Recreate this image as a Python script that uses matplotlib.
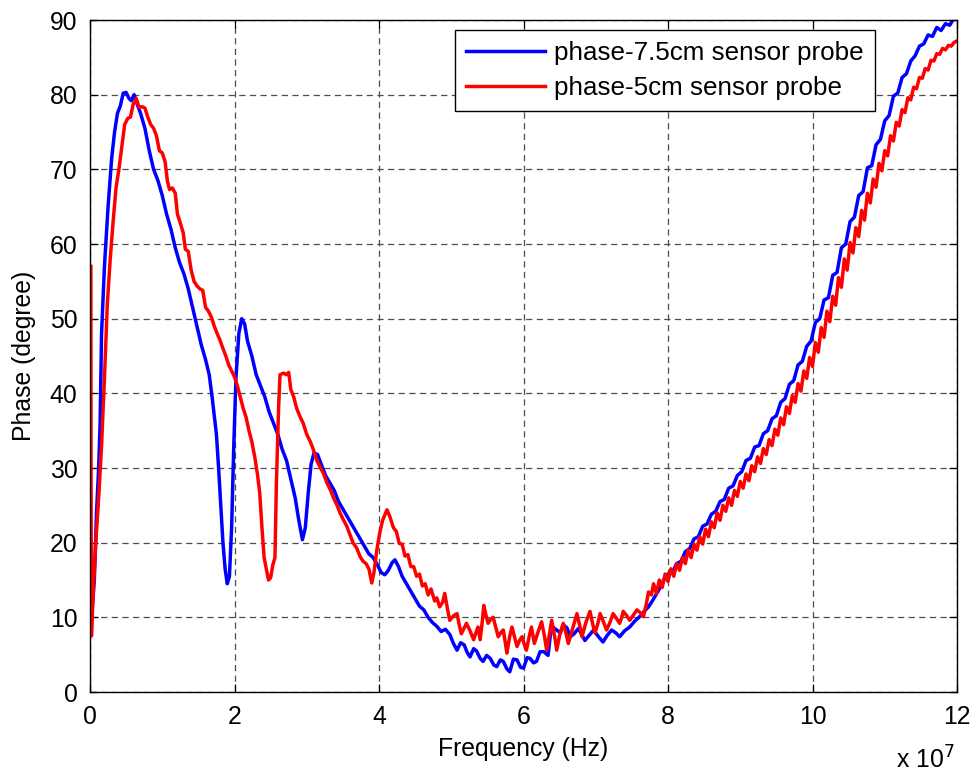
import numpy as np
import matplotlib
matplotlib.use('Agg')
import matplotlib.pyplot as plt

plt.rcParams['font.family'] = ['Liberation Sans', 'DejaVu Sans']

# frequency in units of 1e7 Hz, phase in degrees
freq_75 = [0.03, 0.06, 0.09, 0.12, 0.14, 0.16, 0.20, 0.25, 0.30, 0.34, 0.38, 0.42, 0.46, 0.50, 0.54, 0.57,
           0.61, 0.65, 0.70, 0.76, 0.82, 0.88, 0.94, 1.00, 1.06, 1.12, 1.18, 1.24, 1.30, 1.36, 1.42, 1.48,
           1.54, 1.60, 1.65, 1.69, 1.72, 1.75, 1.78, 1.81, 1.84, 1.87, 1.90, 1.93, 1.96, 1.99, 2.02, 2.06,
           2.10, 2.14, 2.18, 2.24, 2.30, 2.36, 2.42, 2.48, 2.54, 2.60, 2.66, 2.72, 2.78, 2.84, 2.89, 2.94,
           2.98, 3.02, 3.06, 3.10, 3.15, 3.20, 3.26, 3.32, 3.38, 3.44, 3.50, 3.56, 3.62, 3.68, 3.74, 3.80,
           3.86, 3.92, 3.98, 4.03, 4.08, 4.13, 4.18, 4.22, 4.27, 4.32, 4.38, 4.44, 4.50, 4.56,
           4.62, 4.68, 4.74, 4.80, 4.86, 4.92, 4.98, 5.03, 5.08, 5.13, 5.18, 5.22, 5.26, 5.31, 5.35, 5.40,
           5.44, 5.49, 5.54, 5.59, 5.63, 5.68, 5.72, 5.77, 5.81, 5.86, 5.91, 5.96, 6.00, 6.05, 6.09, 6.14,
           6.18, 6.23, 6.28, 6.34, 6.37, 6.40, 6.46, 6.51, 6.55, 6.60, 6.65, 6.70, 6.76, 6.80, 6.85, 6.91,
           6.97, 7.03, 7.10, 7.16, 7.22, 7.28, 7.33, 7.40, 7.47, 7.54, 7.61, 7.67, 7.73, 7.79, 7.85, 7.91,
           7.94, 8.00, 8.06, 8.12, 8.18, 8.24, 8.30, 8.36, 8.42, 8.48,
           8.54, 8.60, 8.66, 8.72, 8.78, 8.84, 8.90, 8.96, 9.02, 9.08, 9.14, 9.20, 9.26, 9.32, 9.38, 9.44,
           9.50, 9.56, 9.62, 9.68, 9.74, 9.80, 9.86, 9.92, 9.98, 10.04, 10.10, 10.16, 10.22, 10.28, 10.34,
           10.40, 10.46, 10.52, 10.58, 10.64, 10.70, 10.76, 10.82, 10.88, 10.94, 11.00, 11.06, 11.12, 11.18,
           11.24, 11.30, 11.36, 11.42, 11.48, 11.54, 11.60, 11.66, 11.72, 11.78, 11.84, 11.90, 11.96, 12.00]
phase_75 = [11, 15, 24, 30, 36, 48, 57, 65, 71.5, 75, 77.5, 78.5, 80.2, 80.3, 79.5, 79.2,
            80.0, 78.8, 77.5, 75.5, 72.5, 70, 68.5, 66.5, 64, 62, 59.5, 57.5, 56, 54, 51.5, 49,
            46.5, 44.5, 42.5, 39.5, 37, 34.5, 30, 25, 20, 16.5, 14.5, 15.5, 22, 33, 42, 48,
            50, 49.3, 47, 45, 42.5, 41, 39.5, 37.5, 36, 34.5, 32.5, 31, 28.5, 26, 23, 20.4,
            22, 26.6, 30.5, 32, 31.8, 30.5, 29, 28, 27, 25.5, 24.5, 23.5, 22.5, 21.5, 20.5, 19.5,
            18.5, 18, 17, 16, 15.7, 16.3, 17.3, 17.7, 16.8, 15.5, 14.5, 13.5, 12.5, 11.5,
            11, 10, 9.3, 8.8, 8.1, 8.4, 7.7, 6.5, 5.6, 6.6, 6.3, 5.3, 4.7, 5.8, 5.5, 4.5,
            4.1, 4.9, 4.5, 3.6, 3.4, 4.3, 4.1, 3.1, 2.7, 4.4, 4.3, 3.3, 3.2, 4.6, 4.5, 3.9,
            4.1, 5.4, 5.4, 4.9, 7.5, 8.7, 8.3, 7.9, 9.0, 8.6, 7.4, 7.8, 8.5, 7.8, 6.9, 7.6,
            8.3, 7.5, 6.7, 7.6, 8.3, 7.9, 7.4, 8.2, 8.7, 9.5, 10.1, 10.8, 11.4, 12.3, 13.3, 14.3,
            15.0, 15.8, 16.0, 17.2, 17.5, 18.8, 19.2, 20.5, 20.8, 22.2,
            22.5, 23.8, 24.2, 25.5, 25.8, 27.3, 27.6, 29.0, 29.5, 31.0, 31.3, 32.8, 33.0, 34.6, 35.0, 36.6,
            37.0, 38.8, 39.3, 41.2, 41.7, 43.8, 44.3, 46.3, 47.0, 49.5, 50.0, 52.5, 52.8, 55.8, 56.2,
            59.5, 60.0, 63.0, 63.6, 66.5, 67.0, 70.2, 70.5, 73.3, 74.0, 76.5, 77.2, 79.8, 80.2,
            82.3, 82.8, 84.5, 85.2, 86.5, 86.8, 88.0, 87.8, 89.0, 88.6, 89.5, 89.3, 90.3, 90.5]

freq_5 = [0.012, 0.014, 0.02, 0.05, 0.08, 0.12, 0.16, 0.20, 0.24, 0.28, 0.32, 0.36, 0.40, 0.44, 0.48, 0.52,
          0.56, 0.60, 0.64, 0.68, 0.72, 0.76, 0.80, 0.84, 0.88, 0.92, 0.96,
          1.00, 1.04, 1.07, 1.10, 1.14, 1.18, 1.21, 1.25, 1.29, 1.32, 1.36, 1.40, 1.44, 1.48, 1.52, 1.56,
          1.60, 1.64, 1.68, 1.72, 1.76, 1.80, 1.84, 1.88, 1.92, 1.96, 2.00, 2.04, 2.08, 2.12, 2.16, 2.20,
          2.24, 2.28, 2.32, 2.35, 2.38, 2.41, 2.44, 2.47, 2.50, 2.53, 2.56, 2.58, 2.61, 2.63,
          2.68, 2.72, 2.75, 2.78, 2.82, 2.86, 2.91, 2.95, 3.00, 3.05, 3.09, 3.14, 3.19, 3.23, 3.28, 3.33,
          3.37, 3.42, 3.46, 3.51, 3.55, 3.60, 3.64, 3.69, 3.74, 3.78, 3.82, 3.86, 3.90, 3.93, 3.97, 4.01,
          4.05, 4.11, 4.15, 4.20, 4.24, 4.28, 4.32, 4.36, 4.40, 4.44, 4.48, 4.52, 4.56,
          4.60, 4.64, 4.68, 4.72, 4.77, 4.80, 4.84, 4.88, 4.91, 4.95, 4.98, 5.03, 5.08, 5.11, 5.14, 5.18,
          5.21, 5.26, 5.31, 5.34, 5.37, 5.40, 5.43, 5.45, 5.48, 5.51, 5.55, 5.58, 5.62, 5.65, 5.69, 5.72,
          5.75, 5.77, 5.81, 5.84, 5.88, 5.91, 5.95, 5.98, 6.01, 6.04, 6.08, 6.11, 6.15, 6.20, 6.25, 6.29,
          6.32, 6.36, 6.39, 6.43, 6.46, 6.50, 6.55, 6.59, 6.62, 6.68, 6.74, 6.78, 6.81, 6.86, 6.92, 6.96,
          6.99, 7.03, 7.06, 7.11, 7.15, 7.20, 7.24, 7.29, 7.33, 7.36, 7.38, 7.43, 7.47, 7.52, 7.57, 7.62,
          7.66, 7.70, 7.73, 7.77, 7.80, 7.84, 7.88, 7.92, 7.96, 8.00, 8.04, 8.08,
          8.12, 8.16, 8.20, 8.24, 8.28, 8.32, 8.36, 8.40, 8.44, 8.48, 8.52, 8.56, 8.60, 8.64, 8.68, 8.72,
          8.76, 8.80, 8.84, 8.88, 8.92, 8.96, 9.00, 9.04, 9.08, 9.12, 9.16, 9.20, 9.24, 9.28, 9.32, 9.36,
          9.40, 9.44, 9.48, 9.52, 9.56, 9.60, 9.64, 9.68, 9.72, 9.76, 9.80, 9.84, 9.88, 9.92, 9.96, 10.00,
          10.04, 10.08, 10.12, 10.16, 10.20, 10.24, 10.28, 10.32, 10.36, 10.40, 10.44, 10.48, 10.52, 10.56,
          10.60, 10.64, 10.68, 10.72, 10.76, 10.80, 10.84, 10.88, 10.92, 10.96, 11.00, 11.04, 11.08, 11.12,
          11.16, 11.20, 11.24, 11.28, 11.32, 11.36, 11.40, 11.44, 11.48, 11.52, 11.56, 11.60, 11.64, 11.68,
          11.72, 11.76, 11.80, 11.84, 11.88, 11.92, 11.96, 12.00]
phase_5 = [57, 30, 7.5, 14.5, 20, 26, 33, 42, 52, 58, 63, 67.5, 70, 73, 76, 76.8,
           77, 78.8, 79.5, 78.3, 78.4, 78.2, 77, 76, 75.5, 74.5, 72.5,
           72.2, 71.0, 68.5, 67.3, 67.5, 66.8, 64, 62.8, 61.5, 59.3, 59.0, 56.5, 55.0, 54.4, 54.0, 53.8,
           51.5, 51.0, 50.2, 49, 48, 47.1, 46, 45, 43.8, 43, 42.2, 41, 39.5, 38, 36.8, 35,
           33.5, 31.5, 29, 26.6, 22, 18, 16.5, 15, 15.3, 17, 18, 28, 38, 42.5,
           42.7, 42.5, 42.8, 40.5, 39.5, 38, 36.8, 36, 34.5, 33.5, 32.5, 31, 30, 29.3, 28, 27,
           26, 25, 24, 23, 22.3, 21, 20, 19.3, 18.1, 17.5, 17.2, 16.5, 14.6, 16, 19, 21.3,
           23, 24.4, 23.5, 22, 21.5, 19.9, 19.8, 18.2, 18.4, 16.8, 16.8, 15.5, 15.8,
           14.2, 14.5, 13.0, 13.8, 12.2, 12.6, 11.4, 12.0, 13.2, 11.0, 9.6, 10.2, 10.5, 9.0, 7.8, 8.6,
           9.2, 8.2, 7.0, 7.9, 8.7, 7.0, 9.5, 11.6, 10.3, 9.2, 9.8, 10.0, 8.5, 7.4, 8.0, 8.3,
           6.5, 5.2, 7.5, 8.7, 7.2, 6.1, 7.0, 7.4, 6.4, 5.6, 7.5, 8.7, 6.5, 8.0, 9.4, 7.5,
           5.6, 7.8, 9.6, 7.5, 5.6, 7.6, 9.2, 7.8, 6.5, 8.5, 10.5, 8.8, 7.4, 9.2, 10.8, 9.0,
           7.9, 9.2, 10.5, 9.3, 8.3, 9.4, 10.5, 9.8, 9.2, 10.0, 10.8, 10.2, 9.6, 10.3, 11.0, 10.6,
           10.1, 11.8, 13.4, 13.0, 14.5, 13.2, 15.0, 14.0, 15.8, 14.8, 16.5, 15.5,
           17.2, 16.3, 18.0, 17.2, 19.0, 18.0, 19.8, 19.0, 20.8, 19.8, 21.8, 20.8, 22.8, 22.0, 24.0, 23.0,
           25.0, 24.2, 26.0, 25.0, 27.0, 26.2, 28.2, 27.3, 29.2, 28.3, 30.3, 29.5, 31.5, 30.6, 32.6, 31.8,
           33.8, 33.0, 35.2, 34.4, 36.7, 35.8, 38.2, 37.3, 39.7, 38.8, 41.3, 40.3, 43.0, 42.0, 44.8, 43.6,
           46.8, 45.5, 48.8, 47.5, 51.0, 49.6, 53.0, 51.8, 55.5, 54.2, 58.0, 56.5, 60.2, 58.8,
           62.2, 61.0, 64.5, 63.2, 66.8, 65.5, 68.7, 67.6, 70.8, 69.8, 72.5, 71.8, 74.5, 73.8,
           76.3, 75.8, 78.0, 77.6, 79.6, 79.3, 81.0, 80.8, 82.3, 82.2, 83.5, 83.3, 84.6, 84.5,
           85.5, 85.4, 86.2, 86.0, 86.6, 86.5, 87.0, 87.2]

labels = ['phase-7.5cm sensor probe', 'phase-5cm sensor probe']
xticks = [0, 2, 4, 6, 8, 10, 12]
yticks = [0, 10, 20, 30, 40, 50, 60, 70, 80, 90]

fs = 17.8
fig = plt.figure(figsize=(9.75, 7.72), dpi=100)
ax = fig.add_axes([90/975, 1-692/772, 867/975, 672/772])

ax.plot(np.array(freq_75) * 1e7, phase_75, color='#0000ff', lw=2.5, label=labels[0], zorder=3)
ax.plot(np.array(freq_5) * 1e7, phase_5, color='#ff0000', lw=2.5, label=labels[1], zorder=3)

ax.set_xlim(0, 12e7)
ax.set_ylim(0, 90)
ax.set_xticks([t * 1e7 for t in xticks])
ax.set_xticklabels([str(t) for t in xticks])
ax.set_yticks(yticks)
ax.tick_params(direction='in', length=6, width=0.9, top=True, right=True,
               labelsize=fs, pad=9, colors='black')
ax.grid(True, color='0.3', linestyle=(0, (5, 3.5)), linewidth=0.9, zorder=1)
for s in ax.spines.values():
    s.set_linewidth(1.0)
    s.set_zorder(4)

ax.set_xlabel('Frequency (Hz)', fontsize=fs, labelpad=6)
ax.set_ylabel('Phase (degree)', fontsize=fs, labelpad=10)
fig.text(955/975, 1-760/772, r'x 10$^{7}$', fontsize=fs, ha='right', va='center')

leg = ax.legend(loc='upper right', bbox_to_anchor=((875-90)/867, (692-30)/672),
                borderaxespad=0, fontsize=18.7, handlelength=3.05, handletextpad=0.35,
                labelspacing=0.42, borderpad=0.42, fancybox=False, framealpha=1)
leg.get_frame().set_edgecolor('black')
leg.get_frame().set_linewidth(1.0)

fig.savefig('out.png', dpi=100)
